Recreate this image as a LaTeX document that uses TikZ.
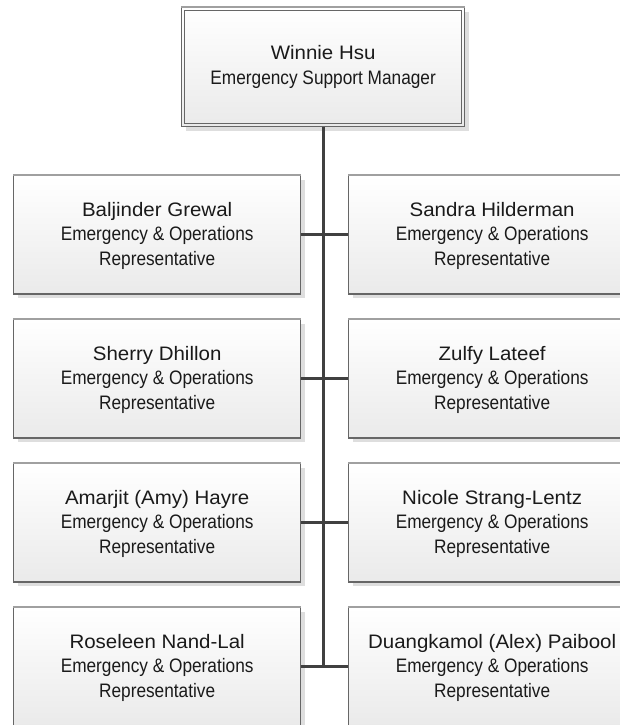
\documentclass[tikz,border=0pt]{standalone}
\usepackage{fontspec}
\setmainfont{Liberation Sans}
\newfontfamily\namefamily[FakeStretch=1.05]{Liberation Sans}
\newfontfamily\rolefamily[FakeStretch=0.885]{Liberation Sans}
\usetikzlibrary{shadows}

\definecolor{ink}{HTML}{1A1A1A}
\definecolor{wire}{HTML}{404040}
\definecolor{rim}{HTML}{666666}
\definecolor{rimtop}{HTML}{A0A0A0}
\definecolor{shadowgray}{HTML}{DEDEDE}
\definecolor{cardbottom}{HTML}{EAEAEA}

\tikzset{
  card/.style={rectangle, draw=rim, line width=1.3pt,
    top color=white, bottom color=cardbottom,
    inner sep=0pt, anchor=north west,
    drop shadow={shadow xshift=4pt, shadow yshift=-4pt, fill=shadowgray, opacity=1}},
  staffcard/.style={card, minimum width=287pt, minimum height=118.5pt},
  topedge/.style={draw=rimtop, line width=1.3pt},
  nametext/.style={inner sep=0pt, anchor=base, text=ink,
    font=\namefamily\fontsize{19.5}{24}\selectfont},
  roletext/.style={inner sep=0pt, anchor=base, text=ink,
    font=\rolefamily\fontsize{19.5}{24}\selectfont},
  trunk/.style={draw=wire, line width=3pt},
  branch/.style={draw=wire, line width=3pt}
}

\begin{document}
\begin{tikzpicture}[x=1pt, y=1pt]
  \clip (0,0) rectangle (620,725);
  \fill[white] (0,0) rectangle (620,725);

  % manager card with its inner frame
  \node[card, minimum width=283pt, minimum height=119pt] (boss) at (181,718) {};
  \draw[topedge] (boss.north west) -- (boss.north east);
  \draw[draw=rim, line width=1.1pt]
    ([shift={(3.8pt,-3.8pt)}]boss.north west) rectangle ([shift={(-3.8pt,3.8pt)}]boss.south east);
  \node[nametext] (bossname) at ([yshift=-53pt]boss.north) {Winnie Hsu};
  \node[roletext] (bossrole) at ([yshift=-78pt]boss.north) {Emergency Support Manager};

  % staff cards, two per row
  \foreach \who/\x/\y [count=\i] in {
      {Baljinder Grewal}/13/550, {Sandra Hilderman}/348/550,
      {Sherry Dhillon}/13/406, {Zulfy Lateef}/348/406,
      {Amarjit (Amy) Hayre}/13/262, {Nicole Strang-Lentz}/348/262,
      {Roseleen Nand-Lal}/13/118, {Duangkamol (Alex) Paibool}/348/118} {
    \node[staffcard] (p\i) at (\x,\y) {};
    \draw[topedge] (p\i.north west) -- (p\i.north east);
    \node[nametext] (p\i name) at ([yshift=-41.5pt]p\i.north) {\who};
    \node[roletext] (p\i role) at ([yshift=-66pt]p\i.north) {Emergency \& Operations};
    \node[roletext] (p\i title) at ([yshift=-90.5pt]p\i.north) {Representative};
  }

  % reporting lines
  \coordinate (trunkend) at (boss.south |- p7.east);
  \draw[trunk] (boss.south) -- (trunkend);
  \draw[branch] (p1.east) -- (p2.west);
  \draw[branch] (p3.east) -- (p4.west);
  \draw[branch] (p5.east) -- (p6.west);
  \draw[branch] (p7.east) -- (p8.west);
\end{tikzpicture}
\end{document}
